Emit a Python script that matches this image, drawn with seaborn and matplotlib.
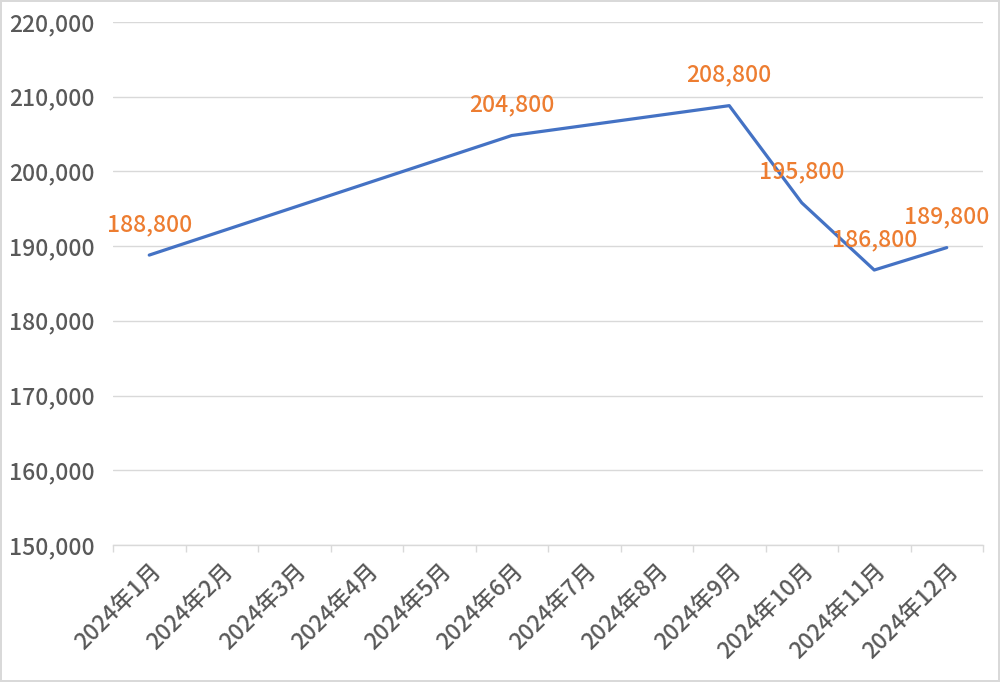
import matplotlib
matplotlib.use("Agg")
import matplotlib.pyplot as plt
import seaborn as sns
import numpy as np
import pandas as pd
from matplotlib.ticker import FuncFormatter, FixedLocator

months = ["2024年1月", "2024年2月", "2024年3月", "2024年4月", "2024年5月", "2024年6月",
          "2024年7月", "2024年8月", "2024年9月", "2024年10月", "2024年11月", "2024年12月"]
values = [188800, None, None, None, None, 204800, None, None, 208800, 195800, 186800, 189800]

sns.set_theme(style="white")
plt.rcParams['font.family'] = ['Noto Sans CJK JP', 'DejaVu Sans']
FS = 16.5
FW = "medium"

df = pd.DataFrame({"pos": np.arange(len(months)), "month": months,
                   "value": pd.to_numeric(pd.Series(values), errors="coerce")})

fig = plt.figure(figsize=(10, 6.82), dpi=100)
fig.patch.set_edgecolor("#D9D9D9")
fig.patch.set_linewidth(1.5)
ax = fig.add_axes([0.113, 0.2009, 0.87, 0.7669])

sns.lineplot(data=df.dropna(), x="pos", y="value", ax=ax, color="#4472C4",
             linewidth=2.3, sort=True, estimator=None)

for p, v in zip(df["pos"], df["value"]):
    if not np.isnan(v):
        ax.annotate(f"{int(v):,}", (p, v), xytext=(0, 22), textcoords="offset points",
                    ha="center", va="center", color="#ED7D31", fontsize=FS, fontweight=FW)

ax.set_xlim(-0.5, len(months) - 0.5)
ax.set_ylim(150000, 220000)
ax.yaxis.set_major_locator(FixedLocator(np.arange(150000, 220001, 10000)))
ax.yaxis.set_major_formatter(FuncFormatter(lambda v, _: f"{int(v):,}"))
ax.grid(axis="y", color="#D9D9D9", linewidth=1)
ax.set_axisbelow(True)

ax.xaxis.set_major_locator(FixedLocator(np.arange(-0.5, len(months), 1.0)))
ax.xaxis.set_major_formatter(FuncFormatter(lambda v, _: ""))
ax.set_xticks(np.arange(len(months)), minor=True)
ax.set_xticklabels(months, minor=True, rotation=45, ha="right", va="top",
                   rotation_mode="anchor", color="#595959", fontsize=FS, fontweight=FW)
ax.tick_params(axis="x", which="major", length=5, color="#D9D9D9", width=1, direction="out", bottom=True)
ax.tick_params(axis="x", which="minor", length=0, pad=10)
ax.tick_params(axis="y", length=0, labelsize=FS, labelcolor="#595959", pad=13.5)
for lbl in ax.get_yticklabels():
    lbl.set_fontweight(FW)

for s in ["top", "right", "left"]:
    ax.spines[s].set_visible(False)
ax.spines["bottom"].set_color("#D9D9D9")
ax.spines["bottom"].set_linewidth(1)
ax.set_xlabel("")
ax.set_ylabel("")

fig.savefig("out.png", dpi=100, edgecolor=fig.get_edgecolor())
